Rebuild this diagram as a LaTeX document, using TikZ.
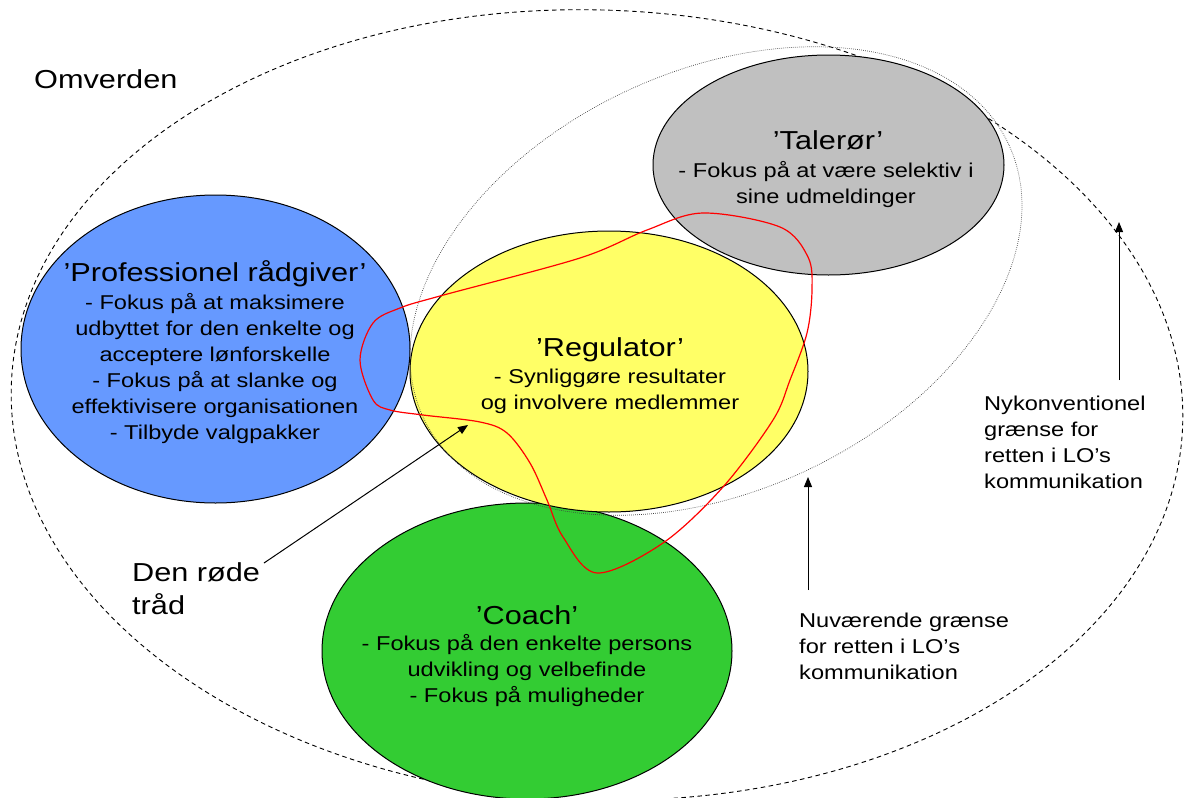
\documentclass[tikz,border=0pt]{standalone}
\usepackage{fontspec}
\setmainfont{Liberation Sans}[FakeStretch=1.18]
\usetikzlibrary{arrows.meta}

\definecolor{rolblue}{RGB}{102,153,255}
\definecolor{rolyellow}{RGB}{255,255,102}
\definecolor{rolgray}{RGB}{192,192,192}
\definecolor{rolgreen}{RGB}{51,204,51}

\begin{document}
\begin{tikzpicture}[x=1pt,y=-1pt,
  role/.style={draw=black, line width=1pt},
  title/.style={anchor=base, inner sep=0pt, font=\fontsize{26}{30}\selectfont},
  body/.style={align=center, inner sep=0pt, font=\fontsize{20}{26}\selectfont},
  note/.style={align=left, inner sep=0pt, anchor=west, font=\fontsize{20}{26}\selectfont},
  pointer/.style={-{Triangle[length=10pt,width=8pt]}, line width=1pt},
]
\useasboundingbox (0,0) rectangle (1184,798);

% outer boundary: the surrounding world
\draw[dash pattern=on 4.5pt off 3.5pt, line width=0.9pt, rotate around={-2:(597,405)}]
  (597,405) ellipse [x radius=586pt, y radius=395pt];

% the four roles
\draw[role, fill=rolblue]   (215.5,349) ellipse [x radius=194.5pt, y radius=154pt];
\draw[role, fill=rolgray]   (828.5,165) ellipse [x radius=175.5pt, y radius=110pt];
\draw[role, fill=rolgreen]  (527,651)   ellipse [x radius=205pt,   y radius=148pt];
\draw[role, fill=rolyellow] (609,371.5) ellipse [x radius=199pt,   y radius=140.5pt];

% current boundary (dotted, tilted)
\draw[black!75, line width=0.7pt, dash pattern=on 0.7pt off 1.3pt, rotate around={25:(716,281)}]
  (716,281) ellipse [x radius=323pt, y radius=210pt];

% the red thread
\draw[red, line width=1.2pt] plot[smooth cycle, tension=0.55] coordinates {
  (360,360) (373,323) (400,308) (440,296) (580,258) (647,230) (703,213)
  (780,227) (808,257) (812,290) (807,333) (790,380) (773,420) (723,487)
  (663,543) (597,573) (563,537) (547,500) (530,463) (507,433) (480,422)
  (423,415) (390,410) (373,400)};

% texts
\node[inner sep=0pt, anchor=base west, font=\fontsize{26}{30}\selectfont] (omverden) at (34,88.5) {Omverden};

\node[title] (profT) at (215,281.5) {’Professionel rådgiver’};
\node[body] (profB) at (215,369) {- Fokus på at maksimere\\udbyttet for den enkelte og\\acceptere lønforskelle\\- Fokus på at slanke og\\effektivisere organisationen\\- Tilbyde valgpakker};

\node[title] (regT) at (610,356.5) {’Regulator’};
\node[body] (regB) at (610,391.5) {- Synliggøre resultater\\og involvere medlemmer};

\node[title] (talT) at (828,149.5) {’Talerør’};
\node[body] (talB) at (826,184.5) {- Fokus på at være selektiv i\\sine udmeldinger};

\node[title] (coachT) at (527,624.5) {’Coach’};
\node[body] (coachB) at (527,671) {- Fokus på den enkelte persons\\udvikling og velbefinde\\- Fokus på muligheder};

\node[note, font=\fontsize{26}{33}\selectfont] (rodtraad) at (132,588.5) {Den røde\\tråd};
\node[note] (nyk) at (984,442.5) {Nykonventionel\\grænse for\\retten i LO’s\\kommunikation};
\node[note] (nuv) at (799,646.5) {Nuværende grænse\\for retten i LO’s\\kommunikation};

% pointers
\coordinate (redfoot) at (264,563);
\coordinate (redtip)  at (468,425);
\coordinate (newfoot) at (1119,380);
\coordinate (newtip)  at (1119,222);
\coordinate (curfoot) at (808,590);
\coordinate (curtip)  at (808,477);
\draw[pointer] (redfoot) -- (redtip);
\draw[pointer] (newfoot) -- (newtip);
\draw[pointer] (curfoot) -- (curtip);
\end{tikzpicture}
\end{document}
